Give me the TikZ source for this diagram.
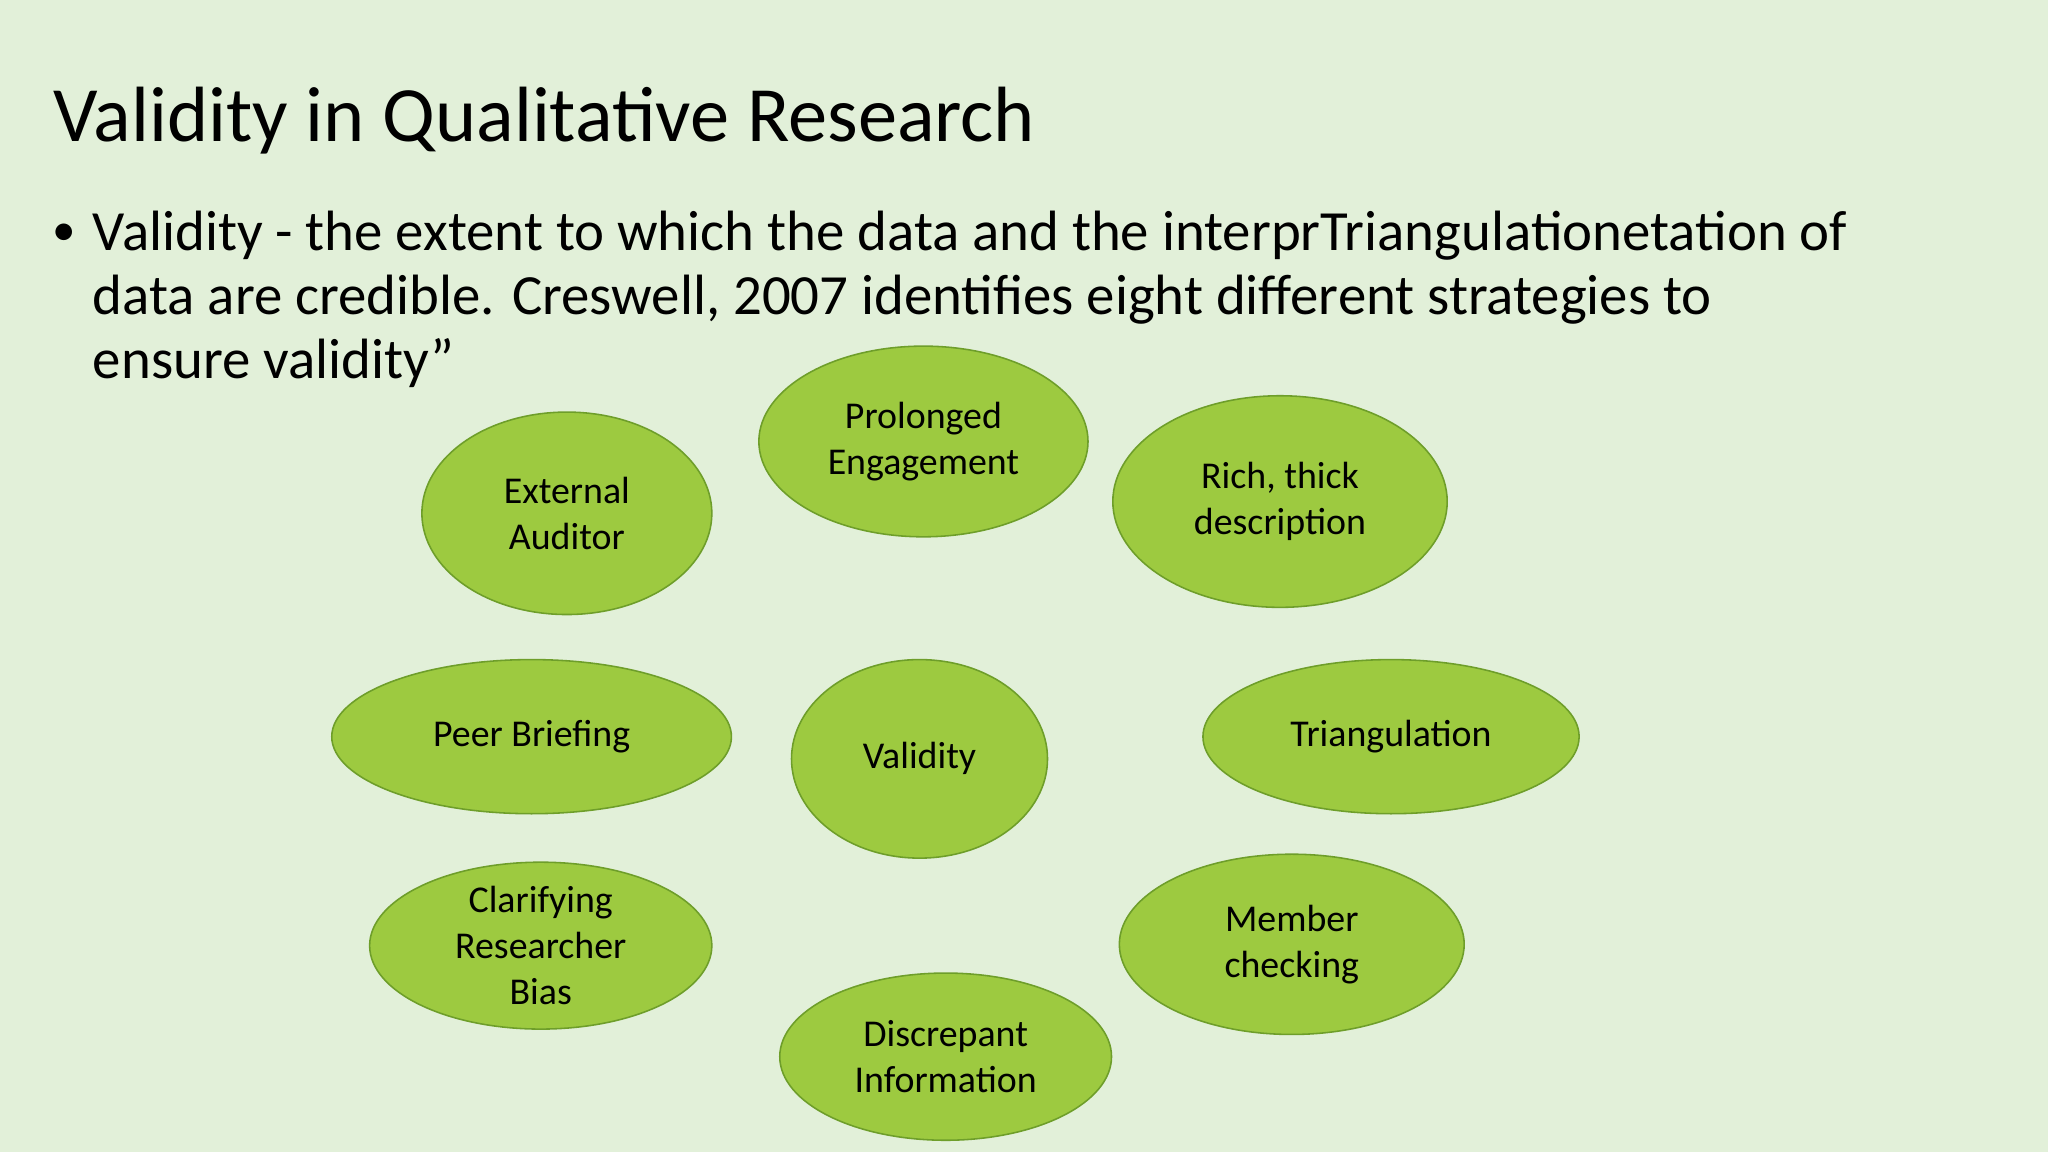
\documentclass[tikz,border=0pt]{standalone}
\usepackage{fontspec}
\setmainfont{Carlito}
\usetikzlibrary{shapes.geometric}
\definecolor{bg}{HTML}{E2F0D9}
\definecolor{ell}{HTML}{9DCA40}
\definecolor{ellb}{HTML}{6E9E2A}
\begin{document}
\begin{tikzpicture}[x=1pt,y=-1pt,
  oval/.style={ellipse,fill=ell,draw=ellb,line width=1.2pt,inner sep=0pt,align=center,font=\fontsize{29}{35}\selectfont},
  line/.style={anchor=base west,inner sep=0pt,font=\fontsize{43.5}{50}\selectfont}]
\fill[bg] (0,0) rectangle (1568,882);
\useasboundingbox (0,0) rectangle (1568,882);
\node[anchor=base west,inner sep=0pt,font=\fontsize{60}{60}\selectfont] (title) at (41,108) {Validity in Qualitative Research};
\node[anchor=base west,inner sep=0pt,font=\fontsize{36}{36}\selectfont] (bullet) at (40,188) {•};
\node[line] (l1) at (71,192) {Validity - the extent to which the data and the interprTriangulationetation of};
\node[line] (l2) at (71,241) {data are credible. Creswell, 2007 identifies eight different strategies to};
\node[line] (l3) at (71,290) {ensure validity”};
\node[oval,minimum width=222,minimum height=155] (ea) at (434,393) {External\\Auditor};
\node[oval,minimum width=252,minimum height=146] (pe) at (707,338) {Prolonged\\Engagement};
\node[oval,minimum width=256,minimum height=162] (rt) at (980,384) {Rich, thick\\description};
\node[oval,minimum width=306,minimum height=118] (pb) at (407,564) {Peer Briefing};
\node[oval,minimum width=196,minimum height=152] (v) at (704,581) {Validity};
\node[oval,minimum width=288,minimum height=118] (tr) at (1065,564) {Triangulation};
\node[oval,minimum width=262,minimum height=118] (cr) at (414,724) {Clarifying\\Researcher\\Bias};
\node[oval,minimum width=264,minimum height=138] (mc) at (989,723) {Member\\checking};
\node[oval,minimum width=254,minimum height=128] (di) at (724,809) {Discrepant\\Information};
\end{tikzpicture}
\end{document}
